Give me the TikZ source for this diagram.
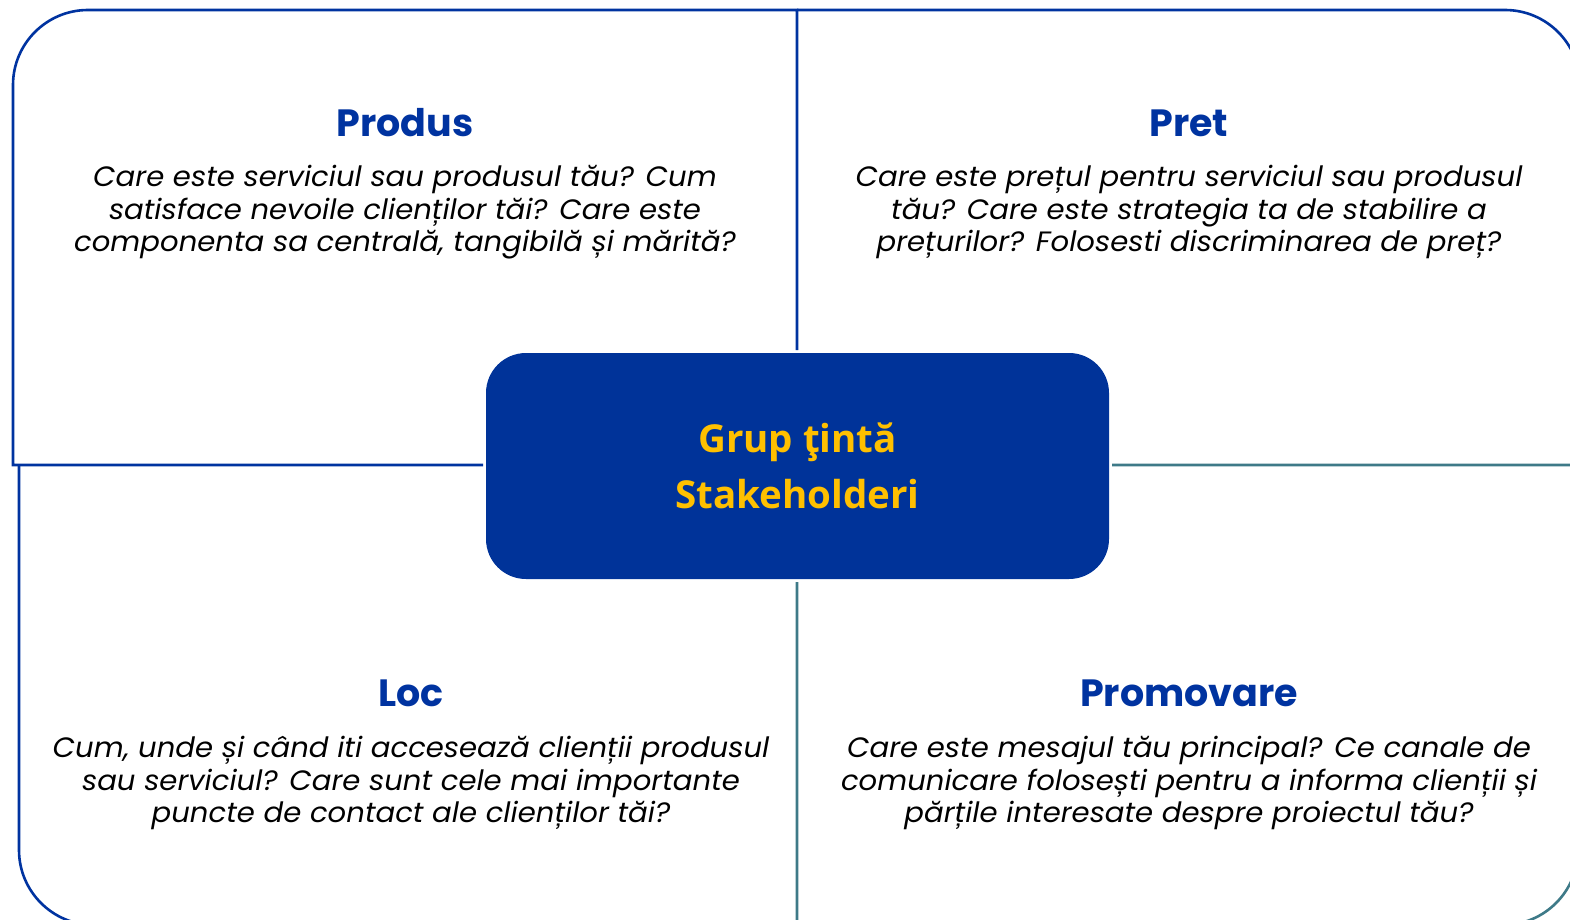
\documentclass[tikz,border=0pt]{standalone}
\usepackage{fontspec}
\setmainfont{Poppins}
\newfontfamily\bodyfont[FakeStretch=1.04]{Poppins}
\newfontfamily\centerfont{Open Sans}
\definecolor{dblue}{HTML}{0033A0}
\definecolor{boxblue}{HTML}{003399}
\definecolor{teal}{HTML}{3E7A88}
\definecolor{gold}{HTML}{FFC000}
\begin{document}
\begin{tikzpicture}[x=1pt,y=-1pt,
  quad/.style={line width=2.6pt,dblue,line join=miter},
  quadteal/.style={line width=2.6pt,teal},
  head/.style={font=\bfseries\fontsize{38}{44}\selectfont,text=dblue,anchor=center,inner sep=0pt},
  body/.style={font=\bodyfont\itshape\fontsize{28}{32.5}\selectfont,align=center,anchor=north,inner sep=0pt},
  centerbox/.style={fill=boxblue,rounded corners=40pt,minimum width=623pt,minimum height=226pt,inner sep=0pt,
    text=gold,font=\centerfont\bfseries\fontsize{38.5}{56}\selectfont,align=center}]
\useasboundingbox (0,0) rectangle (1570,920);
\clip (0,0) rectangle (1570,920);
% quadrants
\draw[quad] (483,465) -- (13,465) -- (13,85) .. controls (13,43.6) and (46.6,10) .. (88,10) -- (797,10) -- (797,350);
\draw[quad] (797,10) -- (1505,10) .. controls (1546.4,10) and (1580,43.6) .. (1580,85) -- (1580,465);
\draw[quad] (19,465) -- (19,850) .. controls (19,891.4) and (52.6,925) .. (94,925) -- (797,925);
\draw[quadteal] (1112,465) -- (1578,465) -- (1578,850) .. controls (1578,891.4) and (1544.4,925) .. (1503,925) -- (797,925) -- (797,582);
% center
\node[centerbox] (center) at (797.5,466) {Grup ţintă\\Stakeholderi};
% headings
\node[head] (produs) at (405,123) {Produs};
\node[head] (pret) at (1189,123) {Pret};
\node[head] (loc) at (411,693) {Loc};
\node[head] (promovare) at (1189,693) {Promovare};
% bodies
\node[body] (tl) at (405,165) {Care este serviciul sau produsul tău? Cum\\satisface nevoile clienților tăi? Care este\\componenta sa centrală, tangibilă și mărită?};
\node[body] (tr) at (1189,165) {Care este prețul pentru serviciul sau produsul\\tău? Care este strategia ta de stabilire a\\prețurilor? Folosesti discriminarea de preț?};
\node[body] (bl) at (411,736) {Cum, unde și când iti accesează clienții produsul\\sau serviciul? Care sunt cele mai importante\\puncte de contact ale clienților tăi?};
\node[body] (br) at (1189,736) {Care este mesajul tău principal? Ce canale de\\comunicare folosești pentru a informa clienții și\\părțile interesate despre proiectul tău?};
\end{tikzpicture}
\end{document}
